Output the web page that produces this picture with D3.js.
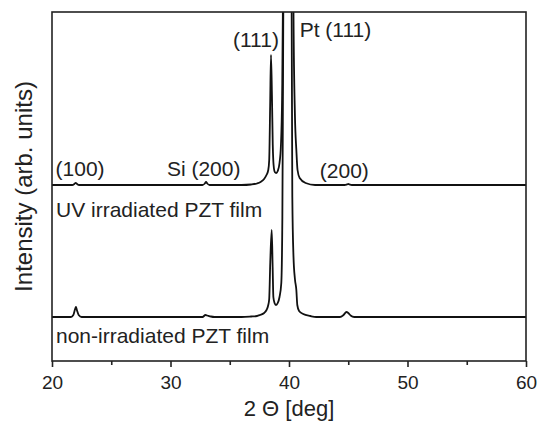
<!DOCTYPE html>
<html>
<head>
<meta charset="utf-8">
<script src="https://cdn.jsdelivr.net/npm/d3@7"></script>
<style>
  html, body { margin: 0; padding: 0; background: #fff; }
  svg { display: block; font-family: "Liberation Sans", Arial, Helvetica, sans-serif; }
</style>
</head>
<body>
<svg id="chart" width="547" height="421"></svg>
<script>
// ---- data (arbitrary intensity units, relative to each trace's own baseline) ----
const upperTheta = [20, 21.7, 21.9, 22.0, 22.1, 22.3, 32.7, 32.9, 33.0, 33.1, 33.3,
  36.0, 36.8, 37.3, 37.6, 37.9, 38.1, 38.25, 38.33, 38.41, 38.48, 38.56, 38.63, 38.7, 38.8, 38.92,
  39.05, 39.2, 39.32, 39.42, 39.5, 39.56, 40.32, 40.38, 40.5, 40.62, 40.72, 40.9, 41.4, 42.2,
  44.7, 44.9, 45.0, 45.1, 45.3, 60];
const upperIntensity = [0, 0, 1.2, 2.2, 1.2, 0, 0, 1.5, 3, 1.5, 0,
  0, 0.5, 1.5, 3, 6, 10, 15, 25, 80, 130, 90, 40, 20, 13, 12,
  14, 22, 40, 90, 200, 400, 400, 170, 70, 35, 15, 7, 2, 0,
  0, 0.6, 1, 0.6, 0, 0];

const lowerTheta = [20, 21.6, 21.8, 21.95, 22.02, 22.1, 22.25, 22.5, 32.7, 32.95, 33.1, 33.4, 33.7,
  36.0, 36.8, 37.3, 37.55, 37.9, 38.1, 38.25, 38.33, 38.42, 38.54, 38.62, 38.68, 38.78, 38.9,
  39.05, 39.2, 39.35, 39.44, 39.5, 39.6, 40.15, 40.2, 40.28, 40.38, 40.5, 40.62, 40.7, 40.85, 41.2, 41.8, 42.3,
  44.3, 44.6, 44.85, 45.0, 45.2, 45.5, 60];
const lowerIntensity = [0, 0, 2, 8, 10, 7, 2, 0, 0, 2, 1.5, 0.5, 0,
  0, 0.5, 1, 2, 4, 7, 12, 18, 55, 87, 50, 20, 14, 12,
  14, 20, 34, 100, 250, 500, 500, 400, 120, 60, 38, 27, 12, 6, 3, 1, 0,
  0, 2, 5, 4, 1.5, 0, 0];

const traceNames = ["non-irradiated PZT film", "UV irradiated PZT film"];
const traceOffsets = [44, 176];           // vertical stacking offsets (arb. units)

const xTicksMajor = [20, 30, 40, 50, 60];
const xTicksMinor = [25, 35, 45, 55];
const xDomain = [20, 60];
const yDomain = [0, 349];

const peakLabels = [
  { text: "(100)",    theta: 20.3, level: 185, anchor: "start" },
  { text: "Si (200)", theta: 29.7, level: 185, anchor: "start" },
  { text: "(111)",    theta: 39.15, level: 314, anchor: "end" },
  { text: "Pt (111)", theta: 40.9, level: 324, anchor: "start" },
  { text: "(200)",    theta: 42.6, level: 183, anchor: "start" }
];

// ---- layout ----
const margin = { left: 52, right: 21, top: 12, bottom: 60 };
const W = 547, H = 421;
const svg = d3.select("#chart");
svg.append("rect").attr("width", W).attr("height", H).attr("fill", "#fff");

const x = d3.scaleLinear().domain(xDomain).range([margin.left, W - margin.right]);
const y = d3.scaleLinear().domain(yDomain).range([H - margin.bottom, margin.top]);

svg.append("defs").append("clipPath").attr("id", "plotclip")
  .append("rect")
  .attr("x", margin.left).attr("y", margin.top)
  .attr("width", x.range()[1] - x.range()[0])
  .attr("height", y.range()[0] - y.range()[1]);

const traces = [
  { theta: lowerTheta, inten: lowerIntensity, offset: traceOffsets[0] },
  { theta: upperTheta, inten: upperIntensity, offset: traceOffsets[1] }
];

const line = d3.line()
  .x(d => x(d[0]))
  .y(d => y(d[1]))
  .curve(d3.curveMonotoneX);

const g = svg.append("g").attr("clip-path", "url(#plotclip)");
traces.forEach(t => {
  const pts = t.theta.map((th, i) => [th, t.inten[i] + t.offset]);
  g.append("path")
    .attr("d", line(pts))
    .attr("fill", "none")
    .attr("stroke", "#111")
    .attr("stroke-width", 1.8)
    .attr("stroke-linejoin", "round");
});

// ---- axes ----
const xAxis = d3.axisBottom(x).tickValues(xTicksMajor).tickSize(6).tickPadding(8.5)
  .tickFormat(d3.format("d"));
const ax = svg.append("g").attr("transform", `translate(0,${y.range()[0]})`).call(xAxis);
ax.select(".domain").remove();
ax.selectAll("line").attr("stroke", "#222").attr("stroke-width", 1.6);
ax.selectAll("text").attr("font-size", 19).attr("fill", "#222")
  .attr("font-family", "'Liberation Sans', Arial, sans-serif");

const xMinor = d3.axisBottom(x).tickValues(xTicksMinor).tickSize(4).tickFormat("");
const axm = svg.append("g").attr("transform", `translate(0,${y.range()[0]})`).call(xMinor);
axm.select(".domain").remove();
axm.selectAll("line").attr("stroke", "#222").attr("stroke-width", 1.6);

// frame
svg.append("rect")
  .attr("x", margin.left).attr("y", margin.top)
  .attr("width", x.range()[1] - x.range()[0])
  .attr("height", y.range()[0] - y.range()[1])
  .attr("fill", "none").attr("stroke", "#222").attr("stroke-width", 1.6);

// ---- labels ----
const txt = (s, px, py, size, anchor) => svg.append("text")
  .attr("x", px).attr("y", py).attr("font-size", size)
  .attr("text-anchor", anchor || "start").attr("fill", "#222").text(s);

peakLabels.forEach(p => txt(p.text, x(p.theta), y(p.level), 21, p.anchor));

txt(traceNames[1], x(20) + 4, y(traceOffsets[1] - 32), 21);
txt(traceNames[0], x(20) + 4, y(traceOffsets[0] - 26), 21);

txt("2 \u0398 [deg]", (x.range()[0] + x.range()[1]) / 2, 415.5, 22, "middle");

svg.append("text")
  .attr("transform", `translate(32,${(margin.top + y.range()[0]) / 2}) rotate(-90)`)
  .attr("text-anchor", "middle").attr("font-size", 24).attr("fill", "#222")
  .text("Intensity (arb. units)");
</script>
</body>
</html>
